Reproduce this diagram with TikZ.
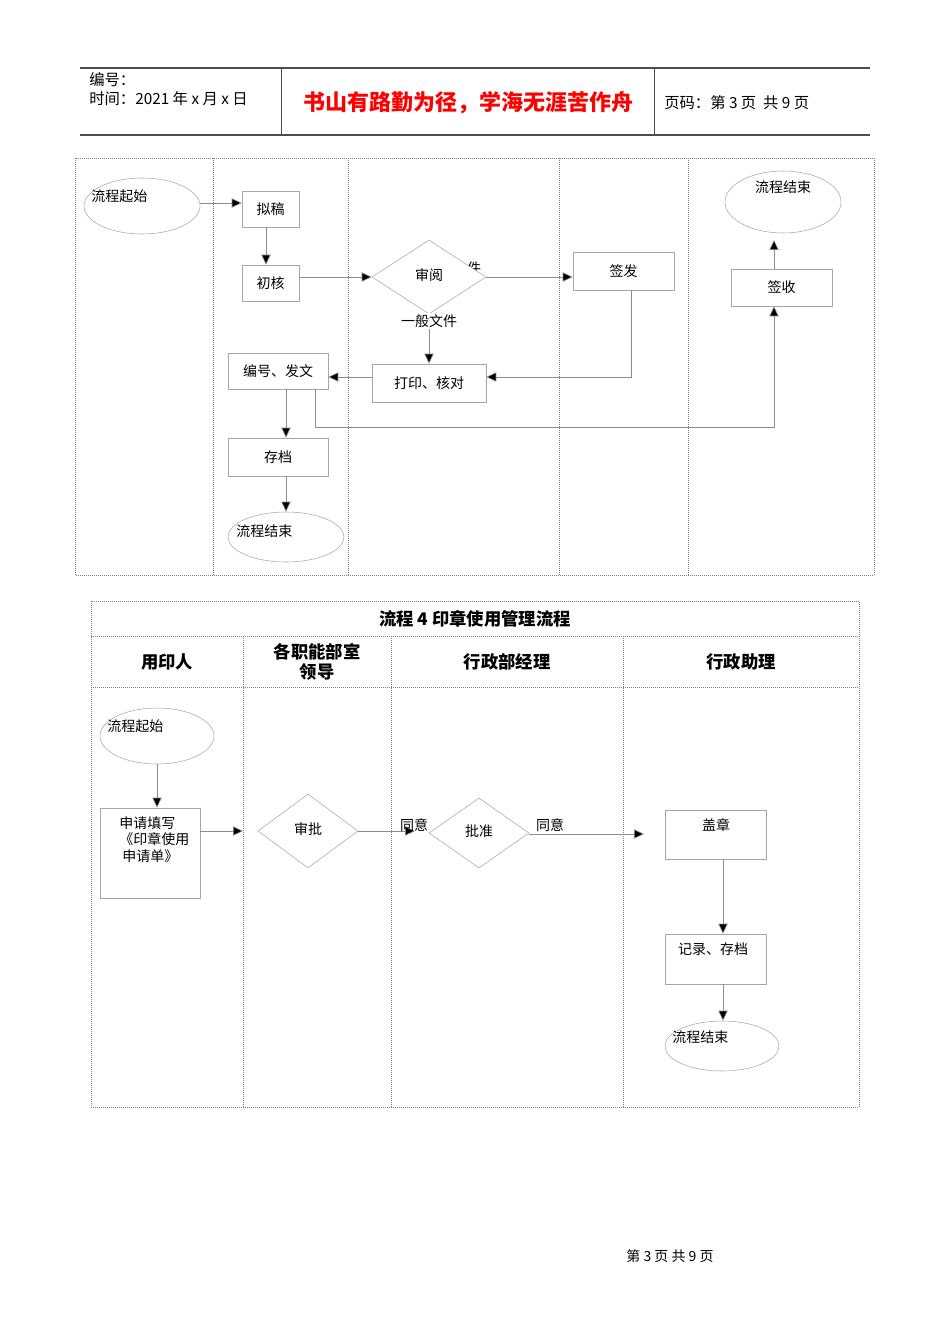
\documentclass[tikz,border=0pt]{standalone}
\usepackage{fontspec}
\setmainfont{Liberation Sans}
\newfontfamily\cjk{Noto Sans CJK SC}
\usetikzlibrary{arrows.meta,shapes.geometric}
\begin{document}
\begin{tikzpicture}[x=0.75pt,y=-0.75pt,
 every node/.style={font=\cjk\fontsize{10.5}{12.5}\selectfont,inner sep=0},
 sz/.style 2 args={minimum width=#1*0.75pt,minimum height=#2*0.75pt},
 bx/.style={draw=black!35,fill=white},
 ln/.style={draw=black!45,line width=0.5pt},
 ar/.style={ln,-{Triangle[length=7.5pt,width=7pt,fill=black]}},
 frame/.style={draw=black!50,densely dotted,line width=0.5pt},
 hd/.style={font=\cjk\bfseries\fontsize{13}{15}\selectfont}]
\useasboundingbox (0,0) rectangle (950,1344);
% header
\draw[black!70,line width=0.8pt] (80,68) -- (870,68) (80,135) -- (870,135);
\draw[black!70] (281,68) -- (281,135) (654,68) -- (654,135);
\node[anchor=west,font=\cjk\fontsize{11.5}{13}\selectfont] (h1) at (89,80) {编号：};
\node[anchor=west,font=\cjk\fontsize{11.5}{13}\selectfont] (h2) at (89,99) {时间：2021 年 x 月 x 日};
\node[text=red,font=\cjk\bfseries\fontsize{16.5}{19}\selectfont] (h3) at (468,103) {书山有路勤为径，学海无涯苦作舟};
\node[anchor=west,font=\cjk\fontsize{11.5}{13}\selectfont] (h4) at (664,103) {页码：第 3 页\ \ 共 9 页};
% top section
\draw[frame] (75,158) rectangle (874,575);
\foreach \x in {213,348,559,688} \draw[frame] (\x,158) -- (\x,575);
\node[draw=black!35,ellipse,sz={116}{56}] (s1) at (142,206) {};
\node[anchor=west] at (91,196) {流程起始};
\node[bx,sz={57}{36}] (ng) at (270.5,209) {拟稿};
\node[bx,sz={57}{36}] (ch) at (270.5,283) {初核};
\node at (474,268) {件};
\node[draw=black!35,fill=white,diamond,sz={114}{74}] (sy) at (429,277) {};
\node at (429,275) {审阅};
\node[bx,sz={101}{38}] (qf) at (623.5,271) {签发};
\node[draw=black!35,ellipse,sz={116}{62}] (e1) at (783,202) {};
\node at (783,187) {流程结束};
\node[bx,sz={101}{37}] (qs) at (781.5,287.5) {签收};
\node[bx,sz={100}{36}] (bh) at (278,371) {编号、发文};
\node[bx,sz={114}{38}] (dy) at (429,383) {打印、核对};
\node[bx,sz={100}{38}] (cd) at (278,457) {存档};
\node[draw=black!35,ellipse,sz={116}{50}] (e2) at (286,537) {};
\node[anchor=west] at (236,531) {流程结束};
\draw[ar] (s1.east |- 0,203) -- (ng.west |- 0,203);
\draw[ar] (ng.south -| 266,0) -- (ch.north -| 266,0);
\draw[ar] (ch.east |- 0,277) -- (sy.west);
\draw[ar] (sy.east) -- (qf.west |- 0,277);
\draw[ar] (sy.south) -- (dy.north);
\node[fill=white,inner sep=1pt] at (429,321) {一般文件};
\draw[ar] (qf.south -| 631,0) -- (631,377) -- (dy.east |- 0,377);
\draw[ar] (dy.west |- 0,377) -- (bh.east |- 0,377);
\draw[ar] (bh.south -| 286,0) -- (cd.north -| 286,0);
\draw[ar] (cd.south -| 286,0) -- (e2.north -| 286,0);
\draw[ar] (bh.south -| 315,0) -- (315,427) -- (774,427) -- (qs.south -| 774,0);
\draw[ar] (qs.north -| 774,0) -- (774,240);
% bottom table
\draw[frame] (91,601) rectangle (859,1107);
\draw[frame] (91,636) -- (859,636) (91,687) -- (859,687);
\foreach \x in {243,391,623} \draw[frame] (\x,636) -- (\x,1107);
\node[hd] (t0) at (475,619) {流程 4 印章使用管理流程};
\node[hd] (t1) at (167,662) {用印人};
\node[hd,align=center] (t2) at (317,662) {各职能部室\\领导};
\node[hd] (t3) at (507,662) {行政部经理};
\node[hd] (t4) at (741,662) {行政助理};
\node[draw=black!35,ellipse,sz={114}{56}] (s2) at (157,736) {};
\node[anchor=west] at (107,726) {流程起始};
\node[bx,sz={100}{90}] (sq) at (150,853) {};
\node[anchor=north west,align=left] at (119,816) {申请填写\\《印章使用\\\ 申请单》};
\coordinate (c1) at (243,831);
\node[draw=black!35,diamond,sz={100}{74}] (sp) at (308,831) {};
\node at (308,829) {审批};
\coordinate (c2) at (415,831);
\node[draw=black!35,diamond,sz={100}{70}] (pz) at (479,833) {};
\node at (479,831) {批准};
\coordinate (c3) at (644,834);
\node[bx,sz={101}{49}] (gz) at (715.5,834.5) {};
\node at (716,825) {盖章};
\node[bx,sz={101}{50}] (jl) at (715.5,959) {};
\node at (713,949) {记录、存档};
\node[draw=black!35,ellipse,sz={114}{50}] (e3) at (722,1046) {};
\node[anchor=west] at (672,1037) {流程结束};
\draw[ar] (s2.south) -- (sq.north -| s2.south);
\draw[ar] (sq.east |- c1) -- (c1);
\draw[ar] (sp.east) -- (c2);
\node at (414,825) {同意};
\draw[ar] (pz.east |- c3) -- (c3);
\node at (550,825) {同意};
\draw[ar] (gz.south -| 723,0) -- (jl.north -| 723,0);
\draw[ar] (jl.south -| 723,0) -- (e3.north -| 723,0);
% footer
\node (ft) at (670,1256) {第\ 3\ 页\ 共\ 9\ 页};
\end{tikzpicture}
\end{document}
